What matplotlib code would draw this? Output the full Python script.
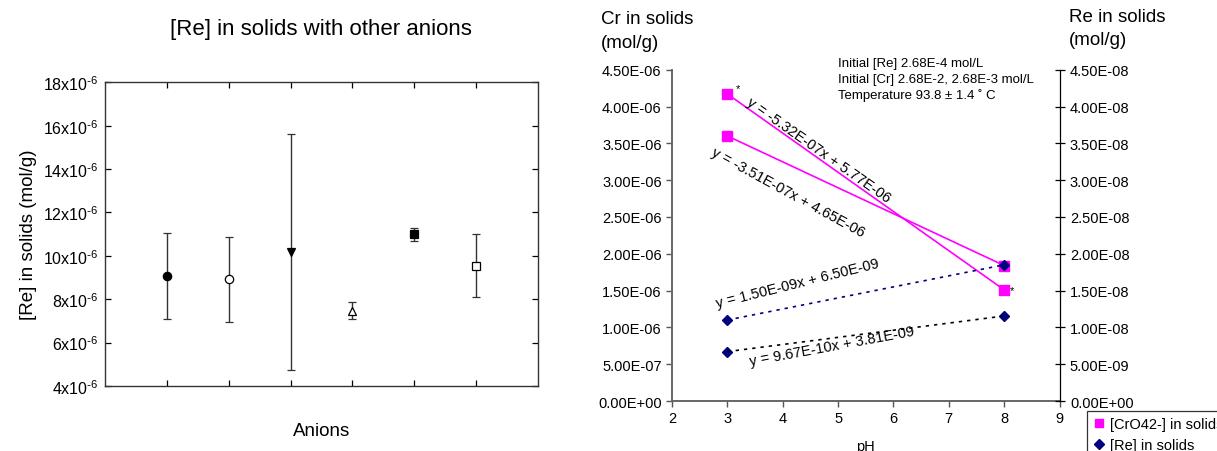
import matplotlib
matplotlib.use("Agg")
import matplotlib.pyplot as plt
from matplotlib.lines import Line2D
from matplotlib.ticker import FixedLocator, FuncFormatter

plt.rcParams['font.family'] = ['Liberation Sans', 'DejaVu Sans']
plt.rcParams['mathtext.default'] = 'regular'

# ---- left panel data: [Re] in solids with other anions (units of 1e-6 mol/g)
anion_pos = [1, 2, 3, 4, 5, 6]
re_mean = [9.07, 8.92, 10.18, 7.48, 11.0, 9.55]
re_err = [1.97, 1.97, 5.45, 0.38, 0.30, 1.45]
anion_markers = ['o', 'o', 'v', '^', 's', 's']
anion_filled = [True, False, True, False, True, False]
left_yticks = [4, 6, 8, 10, 12, 14, 16, 18]

# ---- right panel data
ph = [3, 8]
cr_a = [4.17e-6, 1.51e-6]     # y = -5.32E-07x + 5.77E-06
cr_b = [3.60e-6, 1.84e-6]     # y = -3.51E-07x + 4.65E-06
re_c = [1.10e-8, 1.85e-8]     # y = 1.50E-09x + 6.50E-09
re_d = [0.671e-8, 1.155e-8]   # y = 9.67E-10x + 3.81E-09
cr_ticks = [0, 0.5e-6, 1e-6, 1.5e-6, 2e-6, 2.5e-6, 3e-6, 3.5e-6, 4e-6, 4.5e-6]
re_ticks = [0, 0.5e-8, 1e-8, 1.5e-8, 2e-8, 2.5e-8, 3e-8, 3.5e-8, 4e-8, 4.5e-8]
ph_ticks = [2, 3, 4, 5, 6, 7, 8, 9]

fig = plt.figure(figsize=(12.17, 4.52), dpi=100)

# -------------------------------
# left: error bar chart
# -------------------------------
ax1 = fig.add_axes([0.0865, 0.1438, 0.3552, 0.6719])
for x, m, e, mk, filled in zip(anion_pos, re_mean, re_err, anion_markers, anion_filled):
    ax1.errorbar(x, m, yerr=e, fmt=mk, color='black', ecolor='#333333',
                 elinewidth=1, capsize=3, capthick=1, markersize=6,
                 markerfacecolor='black' if filled else 'white',
                 markeredgecolor='black', markeredgewidth=0.9)
ax1.set_xlim(0, 7)
ax1.set_ylim(4, 18)
ax1.set_xticks(anion_pos)
ax1.set_xticklabels([])
ax1.set_yticks(left_yticks)
ax1.yaxis.set_major_formatter(FuncFormatter(lambda v, p: r'$%dx10^{\text{-}6}$' % v))
ax1.tick_params(direction='in', top=True, right=True, length=4, width=0.9,
                labelsize=11.5, pad=5)
for s in ax1.spines.values():
    s.set_linewidth(1.0)
    s.set_color('#333333')
ax1.set_title('[Re] in solids with other anions', fontsize=16, pad=35)
ax1.set_xlabel('Anions', fontsize=13.5, labelpad=21)
ax1.set_ylabel('[Re] in solids (mol/g)', fontsize=13.5, labelpad=4)

# -------------------------------
# right: Cr and Re vs pH
# -------------------------------
ax2 = fig.add_axes([0.5522, 0.1106, 0.3184, 0.733])
ax2.plot(ph, cr_a, color='#FF00FF', lw=1.2, marker='s', markersize=6.5)
ax2.plot(ph, cr_b, color='#FF00FF', lw=1.2, marker='s', markersize=6.5)
ax2.set_xlim(2, 9)
ax2.set_ylim(0, 4.5e-6)
ax2.set_xticks(ph_ticks)
ax2.yaxis.set_major_locator(FixedLocator(cr_ticks))
ax2.yaxis.set_major_formatter(FuncFormatter(lambda v, p: '{:.2E}'.format(v)))
ax2.tick_params(axis='both', direction='out', length=4, width=1, labelsize=10.5,
                colors='#555555', labelcolor='black')
ax2.spines['top'].set_visible(False)
ax2.spines['right'].set_visible(False)
for side in ['left', 'bottom']:
    ax2.spines[side].set_color('#666666')
    ax2.spines[side].set_linewidth(1.4)
ax2.set_xlabel('pH', fontsize=10.5, labelpad=10)

ax3 = ax2.twinx()
ax3.plot(ph, re_c, color='#000080', lw=1.2, linestyle=(0, (2, 3)),
         marker='D', markersize=5)
ax3.plot(ph, re_d, color='#000080', lw=0, marker='D', markersize=5)
ax3.plot(ph, re_d, color='black', lw=1.2, linestyle=(0, (2, 3)))
ax3.set_ylim(0, 4.5e-8)
ax3.yaxis.set_major_locator(FixedLocator(re_ticks))
ax3.yaxis.set_major_formatter(FuncFormatter(lambda v, p: '{:.2E}'.format(v)))
ax3.tick_params(axis='y', direction='inout', length=7, width=0.9, labelsize=10.5, pad=4)
ax3.spines['top'].set_visible(False)
ax3.spines['left'].set_visible(False)
ax3.spines['bottom'].set_visible(False)
ax3.spines['right'].set_linewidth(0.9)

# equations of trend lines
ax2.text(4.64, 3.42e-6, 'y = -5.32E-07x + 5.77E-06', rotation=-35, fontsize=10.5,
         ha='center', va='center', rotation_mode='anchor')
ax2.text(4.09, 2.84e-6, 'y = -3.51E-07x + 4.65E-06', rotation=-28.5, fontsize=10.5,
         ha='center', va='center', rotation_mode='anchor')
ax3.text(4.27, 1.607e-8, 'y = 1.50E-09x + 6.50E-09', rotation=14, fontsize=10.5,
         ha='center', va='center', rotation_mode='anchor')
ax3.text(4.89, 0.747e-8, 'y = 9.67E-10x + 3.81E-09', rotation=10.5, fontsize=10.5,
         ha='center', va='center', rotation_mode='anchor')
ax2.text(3.2, 4.25e-6, '*', fontsize=8, ha='center', va='center')
ax2.text(8.15, 1.51e-6, '*', fontsize=8, ha='center', va='center')

# axis titles and conditions
fig.text(601 / 1217, 1 - 11 / 452, 'Cr in solids\n(mol/g)', fontsize=13.5,
         ha='left', va='top', linespacing=1.5)
fig.text(1069 / 1217, 1 - 9 / 452, 'Re in solids\n(mol/g)', fontsize=13.5,
         ha='left', va='top', linespacing=1.45)
fig.text(838 / 1217, 1 - 58 / 452,
         'Initial [Re] 2.68E-4 mol/L\nInitial [Cr] 2.68E-2, 2.68E-3 mol/L\n'
         'Temperature 93.8 \u00b1 1.4 \u02da C',
         fontsize=9.5, ha='left', va='top', linespacing=1.4)

handles = [Line2D([], [], color='#FF00FF', marker='s', lw=0, markersize=6),
           Line2D([], [], color='#000080', marker='D', lw=0, markersize=5)]
leg = fig.legend(handles, ['[CrO42-] in solids', '[Re] in solids'],
                 loc='upper left', bbox_to_anchor=(1087 / 1217, 1 - 412 / 452),
                 fontsize=10.5, frameon=True, fancybox=False, borderpad=0.4,
                 handlelength=0.8, handletextpad=0.4, labelspacing=0.5,
                 borderaxespad=0)
leg.get_frame().set_edgecolor('black')
leg.get_frame().set_linewidth(0.9)

fig.savefig('out.png', dpi=100)
